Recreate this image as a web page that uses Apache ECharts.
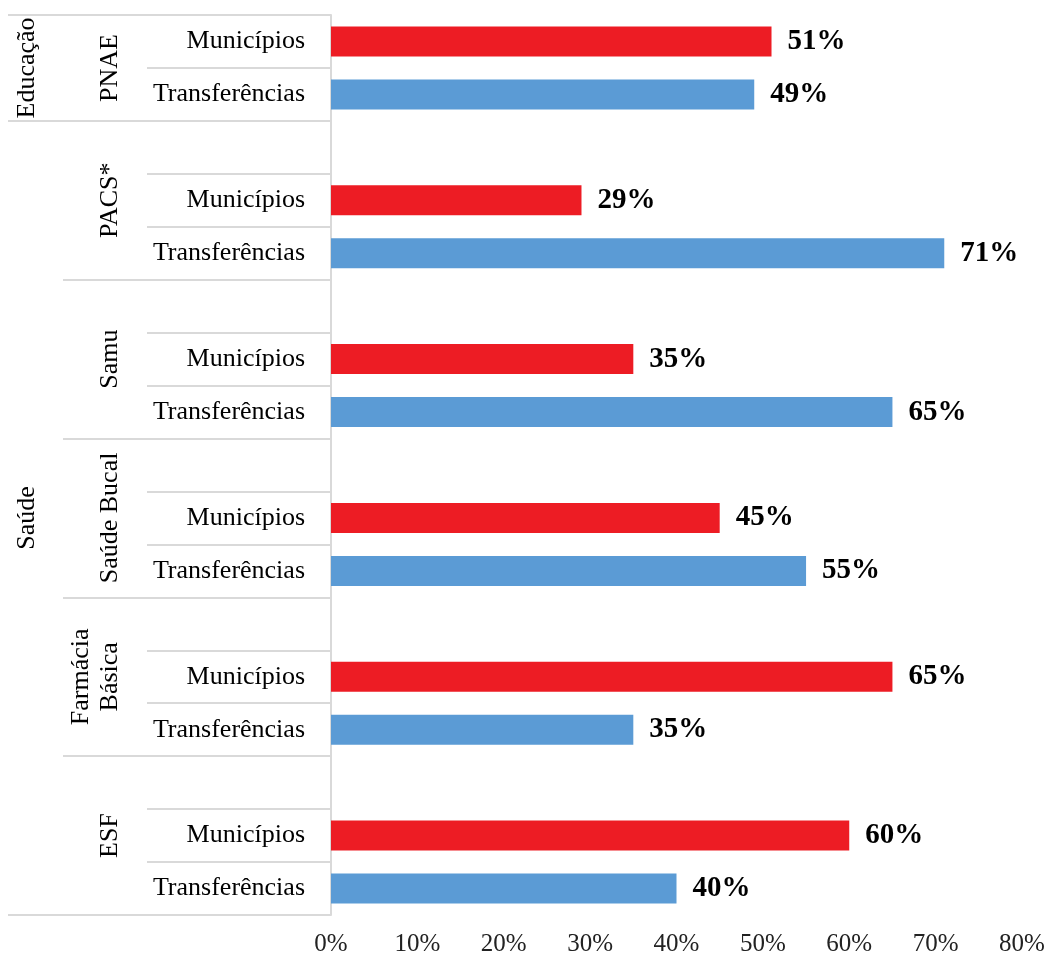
<!DOCTYPE html>
<html>
<head>
<meta charset="utf-8">
<script src="https://cdn.jsdelivr.net/npm/echarts@6/dist/echarts.min.js"></script>
<style>
	html, body { margin: 0; padding: 0; background: #fff; }
	#chart { width: 1049px; height: 958px; }
</style>
</head>
<body>
<div id="chart"></div>
<script>
// data
const sectors = ["Educação", "Saúde"]
const sectorPrograms = [1, 5] // how many programmes in each sector
const programs = ["PNAE", "PACS*", "Samu", "Saúde Bucal", "Farmácia\nBásica", "ESF"]
const rowNames = ["Municípios", "Transferências"]
const municipios = [51, 29, 35, 45, 65, 60]
const transferencias = [49, 71, 65, 55, 35, 40]
const xTicks = [0, 10, 20, 30, 40, 50, 60, 70, 80]

const serif = "Liberation Serif"
const lineGray = "#d9d9d9"

// build the rows: every programme after the first gets an empty spacer row, like the excel sheet
const rowCategories = []
const munData = []
const trfData = []
const programEdges = [0]
const programCenters = []
programs.forEach((p, i) => {
	const start = rowCategories.length
	if (i > 0) {
		rowCategories.push("")
		munData.push(null)
		trfData.push(null)
	}
	rowCategories.push(rowNames[0], rowNames[1])
	munData.push(municipios[i], null)
	trfData.push(null, transferencias[i])
	programEdges.push(rowCategories.length)
	programCenters.push((start + rowCategories.length) / 2)
})

const sectorEdges = [0]
const sectorCenters = []
let k = 0
sectorPrograms.forEach(n => {
	const a = programEdges[k]
	k += n
	const b = programEdges[k]
	sectorEdges.push(b)
	sectorCenters.push((a + b) / 2)
})

const labelAt = (centers, names) => v => {
	const idx = centers.findIndex(c => Math.abs(c - v) < 1e-6)
	return idx >= 0 ? names[idx] : ""
}

const barLabel = {
	show: true,
	position: "right",
	distance: 16,
	formatter: "{c}%",
	fontFamily: serif,
	fontWeight: "bold",
	fontSize: 29,
	color: "#000",
}

const option = {
	animation: false,
	backgroundColor: "#fff",
	grid: {
		left: 331,
		right: 27,
		top: 15,
		bottom: 43,
		containLabel: false,
		outerBoundsMode: "none",
	},
	xAxis: {
		type: "value",
		min: xTicks[0],
		max: xTicks[xTicks.length - 1],
		interval: xTicks[1] - xTicks[0],
		axisLine: { show: false },
		axisTick: { show: false },
		splitLine: { show: false },
		axisLabel: {
			formatter: "{value}%",
			fontFamily: serif,
			fontSize: 25,
			color: "#222",
			margin: 17,
		},
	},
	yAxis: [
		{
			type: "category",
			inverse: true,
			data: rowCategories,
			axisLine: { show: true, lineStyle: { color: lineGray, width: 2 } },
			axisTick: {
				show: true,
				interval: 0,
				length: 184,
				lineStyle: { color: lineGray, width: 2 },
			},
			axisLabel: {
				interval: 0,
				fontFamily: serif,
				fontSize: 26,
				color: "#000",
				margin: 26,
			},
		},
		{
			type: "value",
			inverse: true,
			min: 0,
			max: rowCategories.length,
			position: "left",
			offset: 184,
			axisLine: { show: false },
			splitLine: { show: false },
			axisTick: {
				show: true,
				customValues: programEdges,
				length: 84,
				lineStyle: { color: lineGray, width: 2 },
			},
			axisLabel: {
				customValues: programCenters,
				formatter: labelAt(programCenters, programs),
				rotate: 90,
				margin: 22,
				fontFamily: serif,
				fontSize: 26,
				lineHeight: 29,
				color: "#000",
			},
		},
		{
			type: "value",
			inverse: true,
			min: 0,
			max: rowCategories.length,
			position: "left",
			offset: 268,
			axisLine: { show: false },
			splitLine: { show: false },
			axisTick: {
				show: true,
				customValues: sectorEdges,
				length: 55,
				lineStyle: { color: lineGray, width: 2 },
			},
			axisLabel: {
				customValues: sectorCenters,
				formatter: labelAt(sectorCenters, sectors),
				rotate: 90,
				margin: 23,
				fontFamily: serif,
				fontSize: 26,
				color: "#000",
			},
		},
	],
	series: [
		{
			name: rowNames[0],
			type: "bar",
			yAxisIndex: 0,
			data: munData,
			barWidth: 30,
			barGap: "-100%",
			itemStyle: { color: "#ED1C24" },
			label: barLabel,
		},
		{
			name: rowNames[1],
			type: "bar",
			yAxisIndex: 0,
			data: trfData,
			barWidth: 30,
			barGap: "-100%",
			itemStyle: { color: "#5B9BD5" },
			label: barLabel,
		},
	],
}

const chart = echarts.init(document.getElementById("chart"))
chart.setOption(option)
</script>
</body>
</html>
